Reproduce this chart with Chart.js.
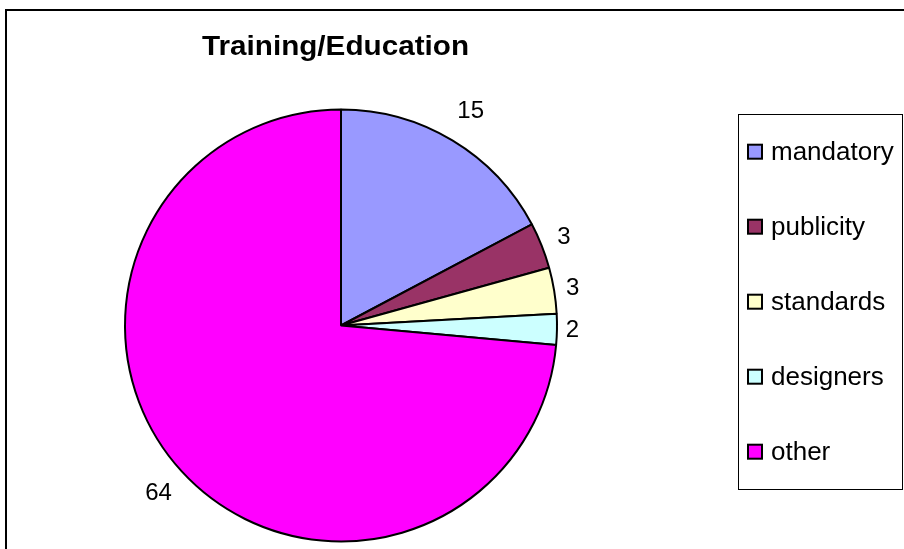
<!DOCTYPE html>
<html>
<head>
<meta charset="utf-8">
<script src="https://cdn.jsdelivr.net/npm/chart.js@4/dist/chart.umd.min.js"></script>
<style>
  html, body { margin: 0; padding: 0; background: #fff; }
  #wrap { position: relative; width: 904px; height: 549px; }
</style>
</head>
<body>
<div id="wrap"><canvas id="c"></canvas></div>
<script>
// Survey answers for the Training/Education question
const categories = ['mandatory', 'publicity', 'standards', 'designers', 'other'];
const counts = [15, 3, 3, 2, 64];
const sliceColors = ['#9999FF', '#993366', '#FFFFCC', '#CCFFFF', '#FF00FF'];
const chartTitle = 'Training/Education';

const FONT = "'Liberation Sans', Arial, Helvetica, sans-serif";

// White page with the outer chart frame
const framePlugin = {
  id: 'frame',
  beforeDraw(chart) {
    const ctx = chart.ctx;
    ctx.save();
    ctx.fillStyle = '#fff';
    ctx.fillRect(0, 0, chart.width, chart.height);
    ctx.strokeStyle = '#000';
    ctx.lineWidth = 2;
    ctx.strokeRect(6, 10, chart.width + 10, chart.height + 10);
    ctx.restore();
  }
};

// Bold centred title above the pie, fitted to its box width
const titlePlugin = {
  id: 'pieTitle',
  afterDraw(chart) {
    const ctx = chart.ctx;
    ctx.save();
    ctx.font = 'bold 27px ' + FONT;
    ctx.fillStyle = '#000';
    ctx.textBaseline = 'alphabetic';
    ctx.textAlign = 'left';
    const targetW = 267;
    const sx = targetW / ctx.measureText(chartTitle).width;
    ctx.translate(335.5 - targetW / 2, 55);
    ctx.scale(sx, 1);
    ctx.fillText(chartTitle, 0, 0);
    ctx.restore();
  }
};

// Value labels placed just outside each slice
const valueLabelPlugin = {
  id: 'valueLabels',
  afterDatasetsDraw(chart) {
    const ctx = chart.ctx;
    const meta = chart.getDatasetMeta(0);
    const values = chart.data.datasets[0].data;
    ctx.save();
    ctx.font = '24px ' + FONT;
    ctx.fillStyle = '#000';
    ctx.textAlign = 'center';
    ctx.textBaseline = 'middle';
    meta.data.forEach((arc, i) => {
      const p = arc.getProps(['x', 'y', 'startAngle', 'endAngle', 'outerRadius'], true);
      const mid = (p.startAngle + p.endAngle) / 2;
      const r = p.outerRadius + 15 + 24 * Math.abs(Math.sin(mid));
      ctx.fillText(String(values[i]), p.x + Math.cos(mid) * r, p.y + Math.sin(mid) * r + 1);
    });
    ctx.restore();
  }
};

// Boxed legend on the right
const legendBoxPlugin = {
  id: 'legendBox',
  afterDraw(chart) {
    const ctx = chart.ctx;
    const labels = chart.data.labels;
    const colors = chart.data.datasets[0].backgroundColor;
    const box = { x: 738, y: 114, w: 164, h: 375 };
    const firstY = 151.7, step = 75;
    ctx.save();
    ctx.strokeStyle = '#000';
    ctx.lineWidth = 1;
    ctx.strokeRect(box.x + 0.5, box.y + 0.5, box.w, box.h);
    ctx.font = '26px ' + FONT;
    ctx.textAlign = 'left';
    ctx.textBaseline = 'middle';
    labels.forEach((lab, i) => {
      const cy = firstY + i * step;
      ctx.fillStyle = colors[i];
      ctx.fillRect(748, cy - 7, 14, 14);
      ctx.lineWidth = 2;
      ctx.strokeStyle = '#000';
      ctx.strokeRect(748, cy - 7, 14, 14);
      ctx.fillStyle = '#000';
      ctx.fillText(lab, 771, cy + 1);
    });
    ctx.restore();
  }
};

new Chart(document.getElementById('c'), {
  type: 'pie',
  data: {
    labels: categories,
    datasets: [{
      data: counts,
      backgroundColor: sliceColors,
      borderColor: '#000',
      borderWidth: 2,
      hoverOffset: 0
    }]
  },
  options: {
    responsive: true,
    maintainAspectRatio: false,
    animation: false,
    events: [],
    layout: { padding: { left: 124, top: 108, right: 346, bottom: 6 } },
    plugins: {
      legend: { display: false },
      title: { display: false },
      tooltip: { enabled: false }
    }
  },
  plugins: [framePlugin, titlePlugin, valueLabelPlugin, legendBoxPlugin]
});
</script>
</body>
</html>
